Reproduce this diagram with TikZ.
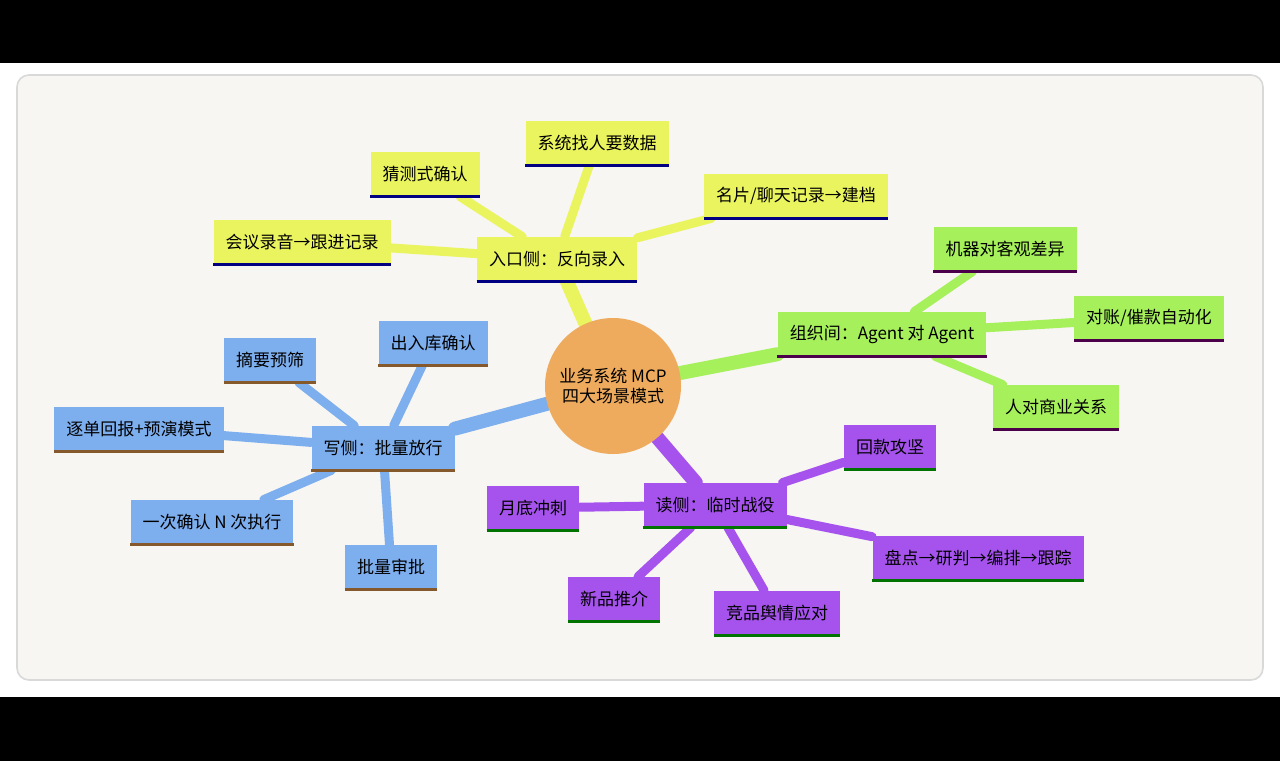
\documentclass[tikz,border=0pt]{standalone}
\usepackage{fontspec}
\setmainfont{Noto Sans CJK SC}
\usetikzlibrary{backgrounds}
\definecolor{cardbg}{HTML}{F7F6F2}
\definecolor{hubc}{HTML}{EEAB5E}
\definecolor{yelc}{HTML}{EAF45E}
\definecolor{grnc}{HTML}{A6F05C}
\definecolor{bluc}{HTML}{7DAEEE}
\definecolor{purc}{HTML}{A653EE}
\begin{document}
\begin{tikzpicture}[x=0.5pt, y=-0.5pt,
    topic/.style={rectangle, inner xsep=6pt, minimum height=22pt, font=\fontsize{8.5}{10}\selectfont, text=black},
    yel/.style={topic, fill=yelc},
    grn/.style={topic, fill=grnc},
    blu/.style={topic, fill=bluc},
    pur/.style={topic, fill=purc},
    trunk/.style={line width=7pt, line cap=round},
    twig/.style={line width=4.5pt, line cap=round}
]
\useasboundingbox (0,0) rectangle (1280,761);
\fill[black] (0,0) rectangle (1280,63);
\fill[black] (0,697) rectangle (1280,761);

% ==== Hub ====
\node[circle, fill=hubc, minimum size=68pt, align=center, font=\fontsize{8.5}{10}\selectfont] (hub) at (613,386) {业务系统 MCP\\四大场景模式};

% ==== Entry side ====
\node[yel] (entry) at (557,259) {入口侧：反向录入};
\node[yel] (guess) at (425,174) {猜测式确认};
\node[yel] (ask) at (597,143) {系统找人要数据};
\node[yel] (card) at (796,196) {名片/聊天记录→建档};
\node[yel] (meet) at (302,242) {会议录音→跟进记录};

% ==== Org side ====
\node[grn] (org) at (882,334) {组织间：Agent 对 Agent};
\node[grn] (diff) at (1005,249) {机器对客观差异};
\node[grn] (recon) at (1149,318) {对账/催款自动化};
\node[grn] (human) at (1056,407) {人对商业关系};

% ==== Write side ====
\node[blu] (write) at (383,448) {写侧：批量放行};
\node[blu] (stock) at (433,343) {出入库确认};
\node[blu] (digest) at (270,360) {摘要预筛};
\node[blu] (report) at (139,429) {逐单回报+预演模式};
\node[blu] (once) at (212,522) {一次确认 N 次执行};
\node[blu] (batch) at (391,567) {批量审批};

% ==== Read side ====
\node[pur] (read) at (715,505) {读侧：临时战役};
\node[pur] (collect) at (890,447) {回款攻坚};
\node[pur] (month) at (533,508) {月底冲刺};
\node[pur] (plan) at (978,558) {盘点→研判→编排→跟踪};
\node[pur] (launch) at (614,599) {新品推介};
\node[pur] (rival) at (777,613) {竞品舆情应对};

% ==== Underlines ====
\foreach \n in {entry,guess,ask,card,meet}
  \draw[line width=1.5pt, blue!50!black] (\n.south west) -- (\n.south east);
\foreach \n in {org,diff,recon,human}
  \draw[line width=1.5pt, violet!60!black] (\n.south west) -- (\n.south east);
\foreach \n in {write,stock,digest,report,once,batch}
  \draw[line width=1.5pt, brown!70!black] (\n.south west) -- (\n.south east);
\foreach \n in {read,collect,month,plan,launch,rival}
  \draw[line width=1.5pt, green!45!black] (\n.south west) -- (\n.south east);

% ==== Branches ====
\begin{scope}[on background layer]
\fill[cardbg, draw=black!15, line width=0.8pt, rounded corners=6pt] (17,75) rectangle (1263,680);
\draw[trunk, yelc] (hub) -- (entry);
\draw[trunk, grnc] (hub) -- (org);
\draw[trunk, bluc] (hub) -- (write);
\draw[trunk, purc] (hub) -- (read);
\foreach \n in {guess,ask,card,meet} \draw[twig, yelc] (entry) -- (\n);
\foreach \n in {diff,recon,human} \draw[twig, grnc] (org) -- (\n);
\foreach \n in {stock,digest,report,once,batch} \draw[twig, bluc] (write) -- (\n);
\foreach \n in {collect,month,plan,launch,rival} \draw[twig, purc] (read) -- (\n);
\end{scope}
\end{tikzpicture}
\end{document}
